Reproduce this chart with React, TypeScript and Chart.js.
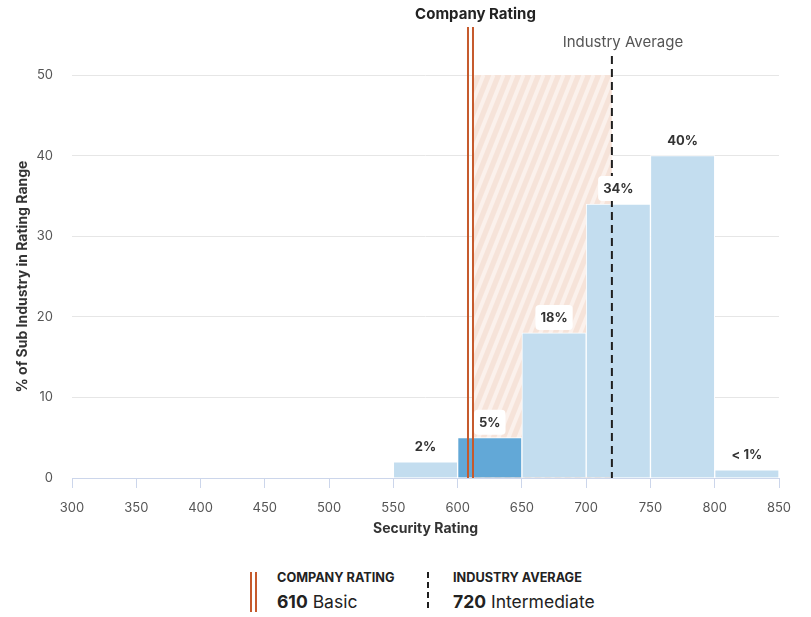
import { useEffect, useRef } from "react";
import { Chart, registerables } from "chart.js";

Chart.register(...registerables);

// ---- data ----
const binStarts = [550, 600, 650, 700, 750, 800];
const binWidth = 50;
const shares = [2, 5, 18, 34, 40, 1];
const shareLabels = ["2%", "5%", "18%", "34%", "40%", "< 1%"];
const companyBinIndex = 1;
const xMin = 300;
const xMax = 850;
const yMax = 50;
const companyRating = 610;
const companyLevel = "Basic";
const industryAverage = 720;
const industryLevel = "Intermediate";

const LIGHT_BLUE = "#c3ddef";
const DARK_BLUE = "#62a8d7";
const ORANGE = "#c65a2c";
const FONT = "Inter, 'Noto Sans', sans-serif";

const overlayPlugin = {
  id: "overlay",
  beforeDatasetsDraw(chart: any) {
    const { ctx, scales } = chart;
    const xs = scales.x;
    const ys = scales.y;
    const x0 = xs.getPixelForValue(companyRating) + 3;
    const x1 = xs.getPixelForValue(industryAverage);
    const yTop = ys.getPixelForValue(yMax);
    const yBot = ys.getPixelForValue(0);
    ctx.save();
    ctx.beginPath();
    ctx.rect(x0, yTop, x1 - x0, yBot - yTop);
    ctx.clip();
    ctx.fillStyle = "#f6e3d9";
    ctx.fillRect(x0, yTop, x1 - x0, yBot - yTop);
    ctx.strokeStyle = "#fbf1ec";
    ctx.lineWidth = 4;
    const h = yBot - yTop;
    const slope = 0.4;
    for (let sx = x0 - h * slope - 20; sx < x1 + 20; sx += 10) {
      ctx.beginPath();
      ctx.moveTo(sx, yBot);
      ctx.lineTo(sx + h * slope, yTop);
      ctx.stroke();
    }
    ctx.restore();
  },
  afterDatasetsDraw(chart: any) {
    const { ctx, scales } = chart;
    const xs = scales.x;
    const ys = scales.y;
    const yBot = ys.getPixelForValue(0);
    // company rating double line
    const cx = xs.getPixelForValue(companyRating);
    ctx.save();
    ctx.strokeStyle = ORANGE;
    ctx.lineWidth = 2;
    [-2.5, 2.5].forEach((d) => {
      ctx.beginPath();
      ctx.moveTo(cx + d, 27);
      ctx.lineTo(cx + d, yBot);
      ctx.stroke();
    });
    // industry average dashed line
    const ix = xs.getPixelForValue(industryAverage);
    ctx.strokeStyle = "#1f1f1f";
    ctx.lineWidth = 2;
    ctx.setLineDash([8, 5]);
    ctx.beginPath();
    ctx.moveTo(ix, 56);
    ctx.lineTo(ix, yBot);
    ctx.stroke();
    ctx.setLineDash([]);
    // texts
    ctx.fillStyle = "#222";
    ctx.font = `bold 15px ${FONT}`;
    ctx.textAlign = "center";
    ctx.textBaseline = "alphabetic";
    ctx.fillText("Company Rating", cx + 5, 18.5);
    ctx.fillStyle = "#555";
    ctx.font = `15px ${FONT}`;
    ctx.fillText("Industry Average", ix + 11, 46.5);
    // data labels
    ctx.font = `bold 13px ${FONT}`;
    ctx.textBaseline = "middle";
    binStarts.forEach((s, i) => {
      const bx = xs.getPixelForValue(s + binWidth / 2);
      const by = ys.getPixelForValue(shares[i]) - 15.5;
      const label = shareLabels[i];
      const w = ctx.measureText(label).width + 10;
      const hh = 25;
      ctx.fillStyle = "#ffffff";
      ctx.beginPath();
      (ctx as any).roundRect(bx - w / 2, by - hh / 2, w, hh, 4);
      ctx.fill();
      ctx.fillStyle = "#333";
      ctx.fillText(label, bx, by + 0.5);
    });
    ctx.restore();
  },
};

export default function App() {
  const ref = useRef<HTMLCanvasElement | null>(null);
  useEffect(() => {
    if (!ref.current) return;
    const chart = new Chart(ref.current, {
      type: "bar",
      data: {
        datasets: [
          {
            data: binStarts.map((s, i) => ({ x: s + binWidth / 2, y: shares[i] })),
            backgroundColor: binStarts.map((_, i) => (i === companyBinIndex ? DARK_BLUE : LIGHT_BLUE)),
            borderColor: "#ffffff",
            borderWidth: 1,
            borderSkipped: "bottom",
            barPercentage: 1,
            categoryPercentage: 1,
          },
        ],
      },
      options: {
        responsive: false,
        animation: false,
        layout: { padding: { left: 0, right: 32, top: 75, bottom: 0 } },
        plugins: { legend: { display: false }, tooltip: { enabled: false } },
        scales: {
          x: {
            type: "linear",
            min: xMin,
            max: xMax,
            offset: false,
            afterFit: (s: any) => {
              s.height = 72;
            },
            ticks: {
              stepSize: 50,
              color: "#555",
              font: { family: FONT, size: 13 },
              padding: 12,
              maxRotation: 0,
            },
            grid: {
              offset: false,
              drawOnChartArea: false,
              drawTicks: true,
              tickLength: 10,
              color: "#ccd6eb",
            },
            border: { color: "#ccd6eb" },
            title: {
              display: true,
              text: "Security Rating",
              color: "#333",
              font: { family: FONT, size: 14, weight: "bold" },
              padding: { top: 0, bottom: 13 },
            },
          },
          y: {
            min: 0,
            max: yMax,
            afterFit: (s: any) => {
              s.width = 72;
            },
            ticks: {
              stepSize: 10,
              color: "#555",
              font: { family: FONT, size: 13 },
              padding: 19,
            },
            grid: {
              drawTicks: false,
              color: (c: any) => (c.tick && c.tick.value === 0 ? "rgba(0,0,0,0)" : "#e6e6e6"),
            },
            border: { display: false },
            title: {
              display: true,
              text: "% of Sub Industry in Rating Range",
              color: "#333",
              font: { family: FONT, size: 14, weight: "bold" },
              padding: { top: 14, bottom: 0 },
            },
          },
        },
      },
      plugins: [overlayPlugin],
    });
    return () => chart.destroy();
  }, []);

  const legendText = { fontFamily: FONT, color: "#222", position: "absolute" as const, whiteSpace: "nowrap" as const };
  return (
    <div style={{ position: "fixed", left: 0, top: 0, width: 811, height: 617, background: "#fff" }}>
      <canvas ref={ref} width={811} height={550} style={{ display: "block", width: 811, height: 550 }} />
      <div style={{ position: "absolute", left: 250, top: 572, width: 2, height: 40, background: ORANGE }} />
      <div style={{ position: "absolute", left: 255, top: 572, width: 2, height: 40, background: ORANGE }} />
      <div style={{ ...legendText, left: 277, top: 571, fontSize: 12.7, fontWeight: 700, lineHeight: "14px" }}>COMPANY RATING</div>
      <div style={{ ...legendText, left: 277, top: 591, fontSize: 17.5, lineHeight: "22px" }}>
        <b>{companyRating}</b> {companyLevel}
      </div>
      <div
        style={{
          position: "absolute",
          left: 427,
          top: 572,
          width: 2,
          height: 40,
          background: "repeating-linear-gradient(to bottom, #1f1f1f 0px, #1f1f1f 6px, transparent 6px, transparent 10px)",
        }}
      />
      <div style={{ ...legendText, left: 453, top: 571, fontSize: 12.7, fontWeight: 700, lineHeight: "14px" }}>INDUSTRY AVERAGE</div>
      <div style={{ ...legendText, left: 453, top: 591, fontSize: 17.5, lineHeight: "22px" }}>
        <b>{industryAverage}</b> {industryLevel}
      </div>
    </div>
  );
}
